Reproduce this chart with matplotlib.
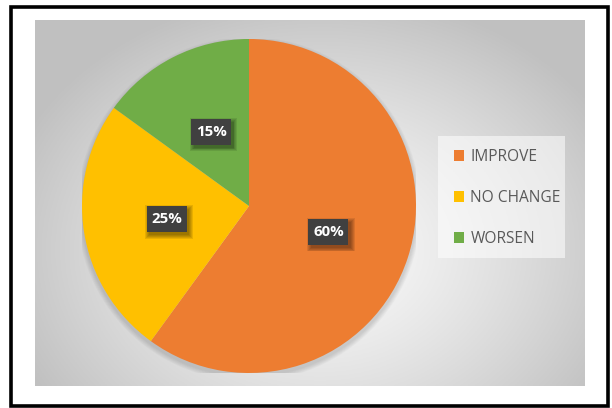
import numpy as np
import matplotlib
matplotlib.use("Agg")
import matplotlib.pyplot as plt
from matplotlib.patches import Rectangle, Circle

categories = ["IMPROVE", "NO CHANGE", "WORSEN"]
shares = [60, 25, 15]
colors = ["#ED7D31", "#FFC000", "#70AD47"]

W, H = 612, 408
fig = plt.figure(figsize=(W / 100, H / 100), dpi=100)
fig.patch.set_facecolor("white")

def fx(px):
    return px / W

def fy(py):
    return 1 - py / H

# outer black border
fig.add_artist(Rectangle((fx(11), fy(406)), fx(597), (404 - 5) / H, transform=fig.transFigure,
                         fill=False, edgecolor="black", linewidth=2.6))

# gradient chart area
bg = fig.add_axes([fx(35), fy(386), fx(550), (386 - 20) / H])
bg.set_axis_off()
gx, gy = np.meshgrid(np.linspace(35, 585, 300), np.linspace(20, 386, 200))
d = np.sqrt(((gx - 320) / 330) ** 2 + ((gy - 250) / 260) ** 2)
d = np.clip(d, 0, 1)
shade = 0.985 - 0.23 * d ** 1.3
bg.imshow(np.dstack([shade] * 3), aspect="auto", extent=(0, 1, 0, 1), origin="upper")

# pie
cx, cy, r = 249, 206, 167
ax = fig.add_axes([fx(cx - r), fy(cy + r), 2 * r / W, 2 * r / H])
ax.set_axis_off()
for k in range(6):
    ax.add_patch(Circle((0.0, -0.018), 1.0 + 0.005 * (k + 1), color="black", alpha=0.022, lw=0))
wedges, texts, autotexts = ax.pie(shares, colors=colors, startangle=90, counterclock=False,
                                  autopct="%.0f%%", pctdistance=0.5,
                                  wedgeprops=dict(linewidth=0))
ax.set_xlim(-1, 1)
ax.set_ylim(-1, 1)

# data label boxes with soft shadow
bw, bh = 40, 26
for t in autotexts:
    px, py = ax.transData.transform(t.get_position())
    for k in range(5):
        g = k * 0.9
        ax.add_artist(Rectangle(((px - bw / 2 + 2.5 - g) / W, (py - bh / 2 - 3 - g) / H),
                                (bw + 2 * g) / W, (bh + 2 * g) / H, transform=fig.transFigure,
                                facecolor="black", alpha=0.09, edgecolor="none", zorder=3))
    ax.add_artist(Rectangle(((px - bw / 2) / W, (py - bh / 2) / H), bw / W, bh / H,
                            transform=fig.transFigure, facecolor="#404040", edgecolor="none",
                            zorder=4))
    t.set_fontsize(10.8)
    t.set_fontweight("bold")
    t.set_color("white")
    t.set_family("Open Sans")
    t.set_zorder(6)

# legend
fig.add_artist(Rectangle((fx(438), fy(258)), fx(127), (258 - 136) / H, transform=fig.transFigure,
                         facecolor="white", alpha=0.55, edgecolor="none"))
leg = fig.legend(wedges, categories, loc="center left", bbox_to_anchor=(fx(440), fy(198)),
                 frameon=False, labelcolor="#595959", handlelength=0.65,
                 handleheight=0.65, handletextpad=0.4, labelspacing=1.6,
                 prop={"family": "Open Sans", "size": 11.2})

fig.savefig("out.png", dpi=100)
